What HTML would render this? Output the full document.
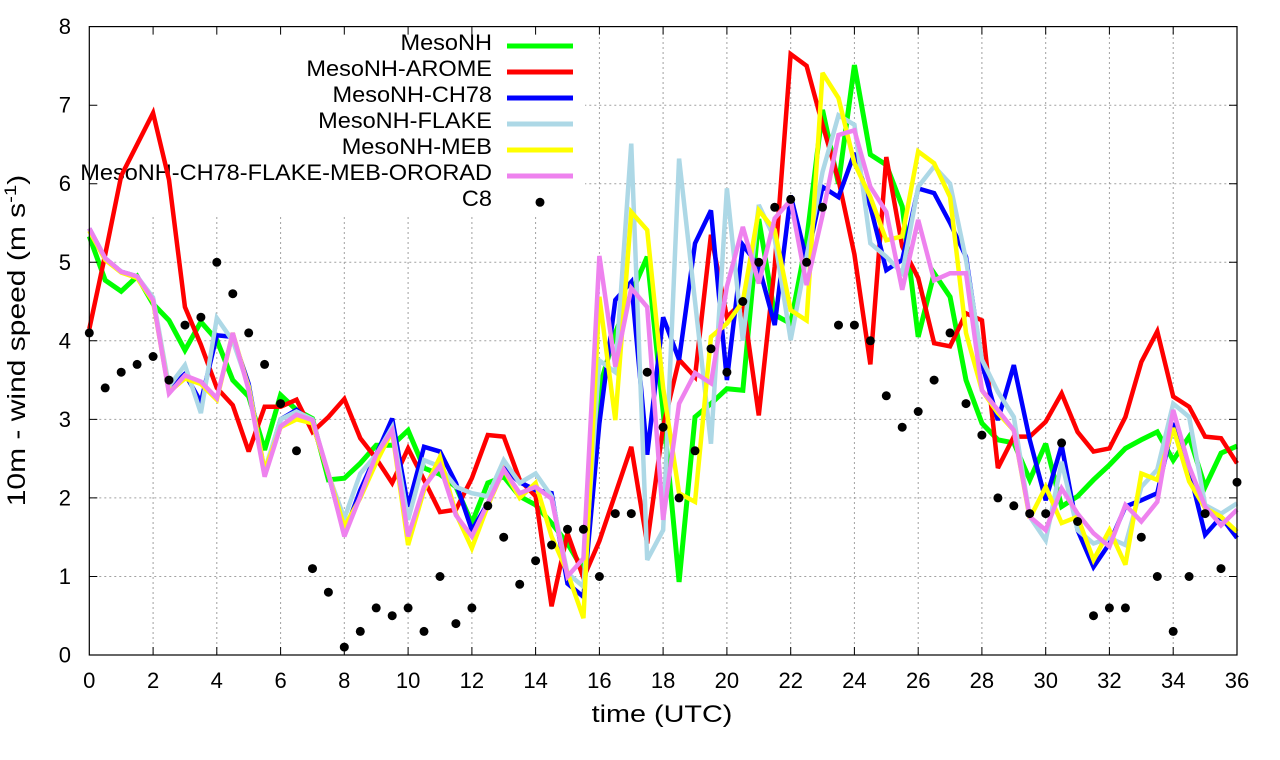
<!DOCTYPE html>
<html>
<head>
<meta charset="utf-8">
<style>
  html,body{margin:0;padding:0;background:#fff;}
  svg{display:block;}
  text{font-family:"Liberation Sans",Arial,sans-serif;fill:#000;}
</style>
</head>
<body>
<svg width="1280" height="760" viewBox="0 0 1280 760" xmlns="http://www.w3.org/2000/svg">
  <rect x="0" y="0" width="1280" height="760" fill="#fff"/>

  <g stroke="#a0a0a0" stroke-width="1" stroke-dasharray="2,3" fill="none">
    <line x1="153.1" y1="27" x2="153.1" y2="655"/>
    <line x1="216.8" y1="27" x2="216.8" y2="655"/>
    <line x1="280.6" y1="27" x2="280.6" y2="655"/>
    <line x1="344.3" y1="27" x2="344.3" y2="655"/>
    <line x1="408.1" y1="27" x2="408.1" y2="655"/>
    <line x1="471.9" y1="27" x2="471.9" y2="655"/>
    <line x1="535.6" y1="27" x2="535.6" y2="655"/>
    <line x1="599.4" y1="27" x2="599.4" y2="655"/>
    <line x1="663.1" y1="27" x2="663.1" y2="655"/>
    <line x1="726.9" y1="27" x2="726.9" y2="655"/>
    <line x1="790.7" y1="27" x2="790.7" y2="655"/>
    <line x1="854.4" y1="27" x2="854.4" y2="655"/>
    <line x1="918.2" y1="27" x2="918.2" y2="655"/>
    <line x1="981.9" y1="27" x2="981.9" y2="655"/>
    <line x1="1045.7" y1="27" x2="1045.7" y2="655"/>
    <line x1="1109.4" y1="27" x2="1109.4" y2="655"/>
    <line x1="1173.2" y1="27" x2="1173.2" y2="655"/>
    <line x1="89.3" y1="576.5" x2="1237" y2="576.5"/>
    <line x1="89.3" y1="497.9" x2="1237" y2="497.9"/>
    <line x1="89.3" y1="419.4" x2="1237" y2="419.4"/>
    <line x1="89.3" y1="340.8" x2="1237" y2="340.8"/>
    <line x1="89.3" y1="262.3" x2="1237" y2="262.3"/>
    <line x1="89.3" y1="183.7" x2="1237" y2="183.7"/>
    <line x1="89.3" y1="105.2" x2="1237" y2="105.2"/>
  </g>

  <rect x="90" y="27" width="495" height="190" fill="#fff"/>

  <g font-size="22">
    <text transform="translate(492,50) scale(1.07,1)" text-anchor="end">MesoNH</text>
    <text transform="translate(492,76) scale(1.07,1)" text-anchor="end">MesoNH-AROME</text>
    <text transform="translate(492,102) scale(1.07,1)" text-anchor="end">MesoNH-CH78</text>
    <text transform="translate(492,128) scale(1.07,1)" text-anchor="end">MesoNH-FLAKE</text>
    <text transform="translate(492,154) scale(1.07,1)" text-anchor="end">MesoNH-MEB</text>
    <text transform="translate(492,180) scale(1.07,1)" text-anchor="end">MesoNH-CH78-FLAKE-MEB-ORORAD</text>
    <text transform="translate(492,206) scale(1.07,1)" text-anchor="end">C8</text>
  </g>
  <g stroke-width="5" fill="none">
    <line x1="507" y1="46" x2="573" y2="46" stroke="#00ff00"/>
    <line x1="507" y1="72" x2="573" y2="72" stroke="#ff0000"/>
    <line x1="507" y1="98" x2="573" y2="98" stroke="#0000ff"/>
    <line x1="507" y1="124" x2="573" y2="124" stroke="#add8e6"/>
    <line x1="507" y1="150" x2="573" y2="150" stroke="#ffff00"/>
    <line x1="507" y1="176" x2="573" y2="176" stroke="#ee82ee"/>
  </g>
  <circle cx="540" cy="202.3" r="4.5" fill="#000"/>

  <g transform="matrix(31.88 0 0 -78.55 89.3 655)" fill="none" stroke-linejoin="miter" stroke-miterlimit="3">
    <polyline vector-effect="non-scaling-stroke" stroke="#00ff00" stroke-width="5" points="0,5.33 0.5,4.77 1,4.63 1.5,4.82 2,4.47 2.5,4.26 3,3.88 3.5,4.24 4,4.01 4.5,3.5 5,3.29 5.5,2.61 6,3.31 6.5,3.12 7,3.01 7.5,2.23 8,2.25 8.5,2.44 9,2.67 9.5,2.67 10,2.86 10.5,2.38 11,2.3 11.5,2.14 12,1.68 12.5,2.19 13,2.27 13.5,2.02 14,1.91 14.5,1.68 15,1.42 15.5,1.08 16,3.4 16.5,4.1 17,4.6 17.5,5.07 18,3.1 18.5,0.93 19,3.03 19.5,3.2 20,3.39 20.5,3.37 21,5.55 21.5,4.33 22,4.22 22.5,5.28 23,6.94 23.5,6.0 24,7.51 24.5,6.37 25,6.24 25.5,5.71 26,4.05 26.5,4.86 27,4.56 27.5,3.5 28,2.95 28.5,2.74 29,2.7 29.5,2.23 30,2.69 30.5,1.89 31,2.02 31.5,2.23 32,2.42 32.5,2.63 33,2.74 33.5,2.84 34,2.48 34.5,2.78 35,2.14 35.5,2.57 36,2.66"/>
    <polyline vector-effect="non-scaling-stroke" stroke="#ff0000" stroke-width="4.5" points="0,4.15 0.5,5.1 1,6.1 1.5,6.5 2,6.9 2.5,6.05 3,4.43 3.5,3.95 4,3.4 4.5,3.18 5,2.59 5.5,3.16 6,3.16 6.5,3.25 7,2.84 7.5,3.03 8,3.26 8.5,2.76 9,2.5 9.5,2.19 10,2.63 10.5,2.23 11,1.82 11.5,1.85 12,2.25 12.5,2.8 13,2.78 13.5,2.23 14,2.02 14.5,0.62 15,1.55 15.5,0.98 16,1.45 16.5,2.05 17,2.65 17.5,1.42 18,2.91 18.5,3.76 19,3.54 19.5,5.35 20,4.3 20.5,4.5 21,3.05 21.5,4.95 22,7.65 22.5,7.5 23,6.75 23.5,6.05 24,5.1 24.5,3.7 25,6.34 25.5,5.2 26,4.8 26.5,3.97 27,3.93 27.5,4.35 28,4.26 28.5,2.38 29,2.78 29.5,2.78 30,2.97 30.5,3.33 31,2.84 31.5,2.59 32,2.63 32.5,3.03 33,3.73 33.5,4.12 34,3.29 34.5,3.16 35,2.78 35.5,2.76 36,2.44"/>
    <polyline vector-effect="non-scaling-stroke" stroke="#0000ff" stroke-width="4.5" points="0,5.43 0.5,5.05 1,4.88 1.5,4.82 2,4.52 2.5,3.38 3,3.58 3.5,3.22 4,4.07 4.5,4.05 5,3.45 5.5,2.32 6,3.0 6.5,3.12 7,2.95 7.5,2.3 8,1.55 8.5,2.1 9,2.55 9.5,3.01 10,1.89 10.5,2.65 11,2.59 11.5,2.19 12,1.59 12.5,1.93 13,2.38 13.5,2.2 14,2.1 14.5,2.06 15,0.91 15.5,0.74 16,2.95 16.5,4.52 17,4.75 17.5,2.55 18,4.3 18.5,3.76 19,5.24 19.5,5.66 20,3.5 20.5,5.22 21,4.95 21.5,4.2 22,5.85 22.5,5.03 23,5.96 23.5,5.83 24,6.39 24.5,5.71 25,4.9 25.5,5.03 26,5.94 26.5,5.88 27,5.5 27.5,5.07 28,3.71 28.5,2.99 29,3.69 29.5,2.74 30,1.97 30.5,2.67 31,1.59 31.5,1.12 32,1.42 32.5,1.89 33,1.97 33.5,2.06 34,2.95 34.5,2.36 35,1.53 35.5,1.76 36,1.49"/>
    <polyline vector-effect="non-scaling-stroke" stroke="#add8e6" stroke-width="4.5" points="0,5.43 0.5,5.05 1,4.88 1.5,4.82 2,4.55 2.5,3.42 3,3.69 3.5,3.08 4,4.29 4.5,4.0 5,3.42 5.5,2.35 6,3.0 6.5,3.1 7,3.0 7.5,2.3 8,1.74 8.5,2.31 9,2.55 9.5,2.9 10,1.72 10.5,2.48 11,2.4 11.5,2.14 12,2.06 12.5,2.02 13,2.48 13.5,2.19 14,2.31 14.5,2.02 15,1.04 15.5,0.87 16,3.75 16.5,3.6 17,6.51 17.5,1.21 18,1.59 18.5,6.32 19,4.5 19.5,2.69 20,5.94 20.5,4.0 21,5.73 21.5,5.3 22,4.01 22.5,5.07 23,6.15 23.5,6.87 24,6.75 24.5,5.24 25,5.07 25.5,4.86 26,5.96 26.5,6.22 27,6.0 27.5,5.03 28,3.76 28.5,3.35 29,3.03 29.5,1.76 30,1.46 30.5,2.46 31,1.59 31.5,1.42 32,1.49 32.5,1.4 33,2.14 33.5,2.36 34,3.2 34.5,3.03 35,1.91 35.5,1.8 36,1.93"/>
    <polyline vector-effect="non-scaling-stroke" stroke="#ffff00" stroke-width="4.5" points="0,5.4 0.5,5.03 1,4.87 1.5,4.8 2,4.5 2.5,3.35 3,3.52 3.5,3.45 4,3.25 4.5,4.1 5,3.4 5.5,2.35 6,2.9 6.5,3.0 7,2.95 7.5,2.3 8,1.63 8.5,2.0 9,2.45 9.5,2.85 10,1.4 10.5,2.1 11,2.52 11.5,1.8 12,1.36 12.5,1.9 13,2.36 13.5,2.0 14,2.19 14.5,1.51 15,1.05 15.5,0.47 16,4.56 16.5,2.99 17,5.64 17.5,5.41 18,3.4 18.5,2.06 19,1.95 19.5,4.05 20,4.22 20.5,4.5 21,5.66 21.5,5.41 22,4.39 22.5,4.26 23,7.41 23.5,7.09 24,6.26 24.5,5.83 25,5.28 25.5,5.33 26,6.41 26.5,6.26 27,5.83 27.5,4.1 28,3.37 28.5,3.08 29,2.86 29.5,1.74 30,2.14 30.5,1.68 31,1.76 31.5,1.21 32,1.59 32.5,1.15 33,2.31 33.5,2.23 34,2.89 34.5,2.21 35,1.87 35.5,1.76 36,1.57"/>
    <polyline vector-effect="non-scaling-stroke" stroke="#ee82ee" stroke-width="4.5" points="0,5.43 0.5,5.05 1,4.88 1.5,4.82 2,4.52 2.5,3.33 3,3.56 3.5,3.48 4,3.27 4.5,4.1 5,3.37 5.5,2.27 6,2.91 6.5,3.06 7,2.99 7.5,2.31 8,1.51 8.5,2.02 9,2.55 9.5,2.86 10,1.51 10.5,2.14 11,2.41 11.5,1.78 12,1.51 12.5,1.93 13,2.36 13.5,2.06 14,2.14 14.5,1.99 15,1.0 15.5,1.23 16,5.08 16.5,3.67 17,4.67 17.5,4.43 18,1.72 18.5,3.2 19,3.59 19.5,3.46 20,4.69 20.5,5.45 21,4.73 21.5,5.56 22,5.79 22.5,4.71 23,5.6 23.5,6.62 24,6.68 24.5,5.96 25,5.64 25.5,4.65 26,5.54 26.5,4.77 27,4.86 27.5,4.86 28,3.37 28.5,3.12 29,2.86 29.5,1.76 30,1.59 30.5,2.12 31,1.8 31.5,1.55 32,1.38 32.5,1.91 33,1.7 33.5,1.95 34,3.12 34.5,2.4 35,1.89 35.5,1.65 36,1.85"/>
  </g>

  <g fill="#000">
    <circle cx="89.3" cy="332.9" r="4.5"/>
    <circle cx="105.2" cy="387.9" r="4.5"/>
    <circle cx="121.2" cy="372.2" r="4.5"/>
    <circle cx="137.1" cy="364.4" r="4.5"/>
    <circle cx="153.1" cy="356.5" r="4.5"/>
    <circle cx="169.0" cy="380.1" r="4.5"/>
    <circle cx="185.0" cy="325.1" r="4.5"/>
    <circle cx="200.9" cy="317.2" r="4.5"/>
    <circle cx="216.8" cy="262.3" r="4.5"/>
    <circle cx="232.8" cy="293.7" r="4.5"/>
    <circle cx="248.7" cy="332.9" r="4.5"/>
    <circle cx="264.6" cy="364.4" r="4.5"/>
    <circle cx="280.6" cy="403.6" r="4.5"/>
    <circle cx="296.5" cy="450.8" r="4.5"/>
    <circle cx="312.5" cy="568.6" r="4.5"/>
    <circle cx="328.4" cy="592.2" r="4.5"/>
    <circle cx="344.3" cy="647.1" r="4.5"/>
    <circle cx="360.3" cy="631.4" r="4.5"/>
    <circle cx="376.2" cy="607.9" r="4.5"/>
    <circle cx="392.2" cy="615.7" r="4.5"/>
    <circle cx="408.1" cy="607.9" r="4.5"/>
    <circle cx="424.0" cy="631.4" r="4.5"/>
    <circle cx="440.0" cy="576.5" r="4.5"/>
    <circle cx="455.9" cy="623.6" r="4.5"/>
    <circle cx="471.9" cy="607.9" r="4.5"/>
    <circle cx="487.8" cy="505.8" r="4.5"/>
    <circle cx="503.7" cy="537.2" r="4.5"/>
    <circle cx="519.7" cy="584.3" r="4.5"/>
    <circle cx="535.6" cy="560.7" r="4.5"/>
    <circle cx="551.6" cy="545.0" r="4.5"/>
    <circle cx="567.5" cy="529.3" r="4.5"/>
    <circle cx="583.4" cy="529.3" r="4.5"/>
    <circle cx="599.4" cy="576.5" r="4.5"/>
    <circle cx="615.3" cy="513.6" r="4.5"/>
    <circle cx="631.3" cy="513.6" r="4.5"/>
    <circle cx="647.2" cy="372.2" r="4.5"/>
    <circle cx="663.1" cy="427.2" r="4.5"/>
    <circle cx="679.1" cy="497.9" r="4.5"/>
    <circle cx="695.0" cy="450.8" r="4.5"/>
    <circle cx="711.0" cy="348.7" r="4.5"/>
    <circle cx="726.9" cy="372.2" r="4.5"/>
    <circle cx="742.8" cy="301.5" r="4.5"/>
    <circle cx="758.8" cy="262.3" r="4.5"/>
    <circle cx="774.7" cy="207.3" r="4.5"/>
    <circle cx="790.7" cy="199.4" r="4.5"/>
    <circle cx="806.6" cy="262.3" r="4.5"/>
    <circle cx="822.5" cy="207.3" r="4.5"/>
    <circle cx="838.5" cy="325.1" r="4.5"/>
    <circle cx="854.4" cy="325.1" r="4.5"/>
    <circle cx="870.4" cy="340.8" r="4.5"/>
    <circle cx="886.3" cy="395.8" r="4.5"/>
    <circle cx="902.2" cy="427.2" r="4.5"/>
    <circle cx="918.2" cy="411.5" r="4.5"/>
    <circle cx="934.1" cy="380.1" r="4.5"/>
    <circle cx="950.0" cy="332.9" r="4.5"/>
    <circle cx="966.0" cy="403.6" r="4.5"/>
    <circle cx="981.9" cy="435.1" r="4.5"/>
    <circle cx="997.9" cy="497.9" r="4.5"/>
    <circle cx="1013.8" cy="505.8" r="4.5"/>
    <circle cx="1029.7" cy="513.6" r="4.5"/>
    <circle cx="1045.7" cy="513.6" r="4.5"/>
    <circle cx="1061.6" cy="442.9" r="4.5"/>
    <circle cx="1077.6" cy="521.5" r="4.5"/>
    <circle cx="1093.5" cy="615.7" r="4.5"/>
    <circle cx="1109.4" cy="607.9" r="4.5"/>
    <circle cx="1125.4" cy="607.9" r="4.5"/>
    <circle cx="1141.3" cy="537.2" r="4.5"/>
    <circle cx="1157.3" cy="576.5" r="4.5"/>
    <circle cx="1173.2" cy="631.4" r="4.5"/>
    <circle cx="1189.1" cy="576.5" r="4.5"/>
    <circle cx="1205.1" cy="513.6" r="4.5"/>
    <circle cx="1221.0" cy="568.6" r="4.5"/>
    <circle cx="1237.0" cy="482.2" r="4.5"/>
  </g>

  <g stroke="#000" stroke-width="1">
    <path d="M153.1 655v-8M216.8 655v-8M280.6 655v-8M344.3 655v-8M408.1 655v-8M471.9 655v-8M535.6 655v-8M599.4 655v-8M663.1 655v-8M726.9 655v-8M790.7 655v-8M854.4 655v-8M918.2 655v-8M981.9 655v-8M1045.7 655v-8M1109.4 655v-8M1173.2 655v-8"/>
    <path d="M153.1 26.6v8M216.8 26.6v8M280.6 26.6v8M344.3 26.6v8M408.1 26.6v8M471.9 26.6v8M535.6 26.6v8M599.4 26.6v8M663.1 26.6v8M726.9 26.6v8M790.7 26.6v8M854.4 26.6v8M918.2 26.6v8M981.9 26.6v8M1045.7 26.6v8M1109.4 26.6v8M1173.2 26.6v8"/>
    <path d="M89.3 576.5h8M89.3 497.9h8M89.3 419.4h8M89.3 340.8h8M89.3 262.3h8M89.3 183.7h8M89.3 105.2h8"/>
    <path d="M1237 576.5h-8M1237 497.9h-8M1237 419.4h-8M1237 340.8h-8M1237 262.3h-8M1237 183.7h-8M1237 105.2h-8"/>
  </g>

  <rect x="89.3" y="26.6" width="1147.7" height="628.4" fill="none" stroke="#000" stroke-width="1.2"/>

  <g font-size="22" text-anchor="end">
    <text x="71" y="662.5">0</text>
    <text x="71" y="584">1</text>
    <text x="71" y="505.4">2</text>
    <text x="71" y="426.9">3</text>
    <text x="71" y="348.3">4</text>
    <text x="71" y="269.8">5</text>
    <text x="71" y="191.2">6</text>
    <text x="71" y="112.7">7</text>
    <text x="71" y="34.1">8</text>
  </g>

  <g font-size="22" text-anchor="middle">
    <text x="89.3" y="688">0</text>
    <text x="153.1" y="688">2</text>
    <text x="216.8" y="688">4</text>
    <text x="280.6" y="688">6</text>
    <text x="344.3" y="688">8</text>
    <text x="408.1" y="688">10</text>
    <text x="471.9" y="688">12</text>
    <text x="535.6" y="688">14</text>
    <text x="599.4" y="688">16</text>
    <text x="663.1" y="688">18</text>
    <text x="726.9" y="688">20</text>
    <text x="790.7" y="688">22</text>
    <text x="854.4" y="688">24</text>
    <text x="918.2" y="688">26</text>
    <text x="981.9" y="688">28</text>
    <text x="1045.7" y="688">30</text>
    <text x="1109.4" y="688">32</text>
    <text x="1173.2" y="688">34</text>
    <text x="1237" y="688">36</text>
  </g>

  <text transform="translate(662,722) scale(1.2,1)" text-anchor="middle" font-size="24">time (UTC)</text>
  <text transform="translate(25,340.5) rotate(-90) scale(1.2,1)" text-anchor="middle" font-size="25">10m - wind speed  (m s<tspan baseline-shift="super" font-size="17">-1</tspan>)</text>
</svg>
</body>
</html>
